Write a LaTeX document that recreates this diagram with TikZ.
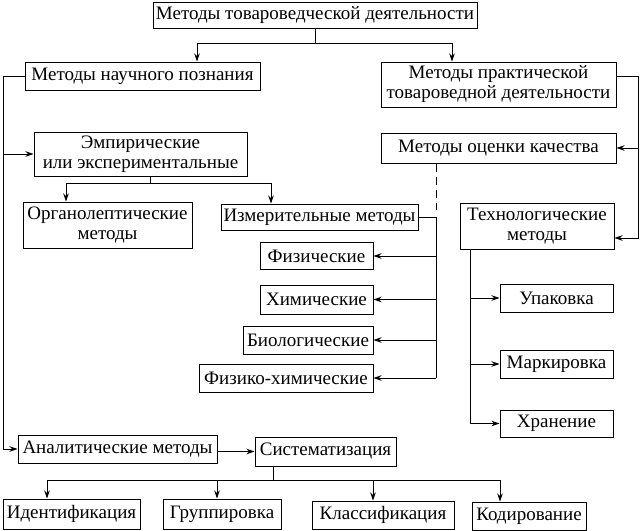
\documentclass[tikz,border=0pt]{standalone}
\usepackage{fontspec}
\setmainfont{Liberation Serif}
\usetikzlibrary{arrows.meta}
\begin{document}
\begin{tikzpicture}[x=1pt,y=-1pt,
  box/.style={draw,line width=1pt,inner sep=0pt,align=center,font=\fontsize{19}{20}\selectfont},
  arr/.style={-{Stealth[length=8pt,width=5.5pt]},line width=0.9pt},
  ln/.style={line width=0.9pt}]
\useasboundingbox (0,0) rectangle (641,531);
% nodes
\node[box,minimum width=324pt,minimum height=26pt] (top) at (315,15) {Методы товароведческой деятельности};
\node[box,minimum width=235pt,minimum height=28pt] (nauch) at (142.5,76) {Методы научного познания};
\node[box,minimum width=235pt,minimum height=45pt] (prakt) at (498.5,84.5) {Методы практической\\товароведной деятельности};
\node[box,minimum width=213pt,minimum height=44pt] (emp) at (140.5,154) {Эмпирические\\или экспериментальные};
\node[box,minimum width=235pt,minimum height=30pt] (ocenk) at (498.5,148) {Методы оценки качества};
\node[box,minimum width=169pt,minimum height=46pt] (organ) at (107.5,225) {Органолептические\\методы};
\node[box,minimum width=197pt,minimum height=26pt] (izmer) at (319.5,217) {Измерительные методы};
\node[box,minimum width=154pt,minimum height=46pt] (tehn) at (537,226) {Технологические\\методы};
\node[box,minimum width=113pt,minimum height=27pt] (fiz) at (316.5,256) {Физические};
\node[box,minimum width=113pt,minimum height=29pt] (him) at (316.5,299.5) {Химические};
\node[box,minimum width=130pt,minimum height=28pt] (bio) at (308,340) {Биологические};
\node[box,minimum width=174pt,minimum height=28pt] (fizhim) at (286,378) {Физико-химические};
\node[box,minimum width=113pt,minimum height=28pt] (upak) at (556.5,298) {Упаковка};
\node[box,minimum width=113pt,minimum height=28pt] (mark) at (556.5,364) {Маркировка};
\node[box,minimum width=113pt,minimum height=27pt] (hran) at (556.5,423.5) {Хранение};
\node[box,minimum width=199pt,minimum height=28pt] (anal) at (117.5,449) {Аналитические методы};
\node[box,minimum width=141pt,minimum height=29pt] (sist) at (325.5,451.5) {Систематизация};
\node[box,minimum width=137pt,minimum height=30pt] (ident) at (71.5,514) {Идентификация};
\node[box,minimum width=118pt,minimum height=30pt] (grup) at (222,514) {Группировка};
\node[box,minimum width=142pt,minimum height=28pt] (klass) at (383,515) {Классификация};
\node[box,minimum width=114pt,minimum height=28pt] (kod) at (529,516) {Кодирование};
% bus coordinates
\coordinate (t1) at (315,43);
\coordinate (t2) at (197,43);
\coordinate (t3) at (452,43);
\coordinate (lx) at (3,0);
\coordinate (r1) at (638,76);
\coordinate (r2) at (638,238);
\coordinate (e1) at (150,183);
\coordinate (e2) at (66,183);
\coordinate (e3) at (271,183);
\coordinate (ix) at (436,0);
\coordinate (d1) at (436,210);
\coordinate (tx) at (470,0);
\coordinate (s1) at (273,480);
\coordinate (s2) at (47,480);
\coordinate (s3) at (500,480);
\coordinate (s4) at (217,480);
\coordinate (s5) at (373,480);
% top
\draw[ln] (top.south) -- (t1);
\draw[ln] (t2) -- (t3);
\draw[arr] (t2) -- (nauch.north -| t2);
\draw[arr] (t3) -- (prakt.north -| t3);
% left bus
\draw[arr] (nauch.west) -- (nauch.west -| lx) |- (anal.west);
\draw[arr] (emp.west -| lx) -- (emp.west);
% right bus
\draw[arr] (r1 -| prakt.east) -- (r1) -- (r2) -- (r2 -| tehn.east);
\draw[arr] (ocenk.east -| r1) -- (ocenk.east);
% empirical
\draw[ln] (emp.south -| e1) -- (e1);
\draw[ln] (e2) -- (e3);
\draw[arr] (e2) -- (organ.north -| e2);
\draw[arr] (e3) -- (izmer.north -| e3);
% measuring
\draw[ln] (izmer.east) -- (izmer.east -| ix) -- (fizhim.east -| ix);
\draw[arr] (fiz.east -| ix) -- (fiz.east);
\draw[arr] (him.east -| ix) -- (him.east);
\draw[arr] (bio.east -| ix) -- (bio.east);
\draw[arr] (fizhim.east -| ix) -- (fizhim.east);
\draw[ln,dash pattern=on 8pt off 5pt] (ocenk.south -| ix) -- (d1);
% technological
\draw[ln] (tehn.south -| tx) -- (hran.west -| tx);
\draw[arr] (upak.west -| tx) -- (upak.west);
\draw[arr] (mark.west -| tx) -- (mark.west);
\draw[arr] (hran.west -| tx) -- (hran.west);
% analytic
\draw[arr] (sist.west -| anal.east) -- (sist.west);
\draw[ln] (sist.south -| s1) -- (s1);
\draw[ln] (s2) -- (s3);
\draw[arr] (s2) -- (ident.north -| s2);
\draw[arr] (s4) -- (grup.north -| s4);
\draw[arr] (s5) -- (klass.north -| s5);
\draw[arr] (s3) -- (kod.north -| s3);
\end{tikzpicture}
\end{document}
